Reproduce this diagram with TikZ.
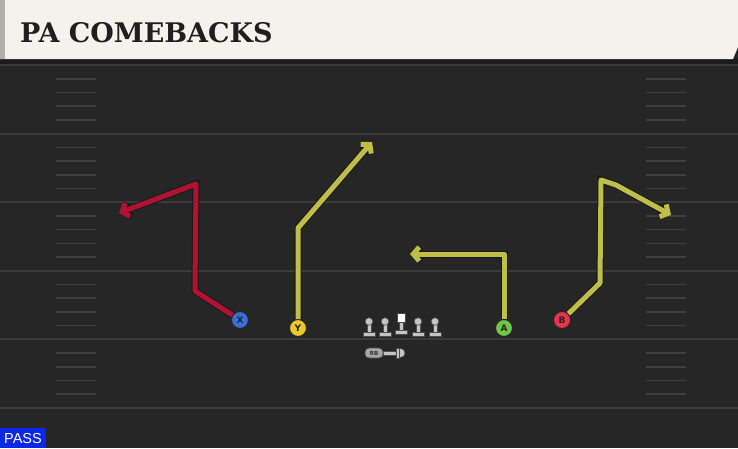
\documentclass[tikz,border=0pt]{standalone}
\usepackage{fontspec}
\setmainfont{DejaVu Sans}
\newfontfamily\titlefont{DejaVu Serif}
\newfontfamily\passfont{Liberation Sans}
\usetikzlibrary{arrows.meta}
\definecolor{field}{RGB}{38,38,38}
\definecolor{yardc}{RGB}{58,58,58}
\definecolor{hashc}{RGB}{62,62,62}
\definecolor{cream}{RGB}{244,242,236}
\definecolor{creamedge}{RGB}{176,176,168}
\definecolor{band}{RGB}{28,28,28}
\definecolor{routered}{RGB}{178,18,50}
\definecolor{routeyel}{RGB}{190,190,72}
\definecolor{xblue}{RGB}{58,110,216}
\definecolor{yyel}{RGB}{236,200,44}
\definecolor{agreen}{RGB}{110,200,70}
\definecolor{bred}{RGB}{232,52,72}
\definecolor{pawnc}{RGB}{196,196,196}
\definecolor{passblue}{RGB}{10,40,230}
\tikzset{
  yard/.style={draw=yardc, line width=2pt},
  hashmark/.style={draw=hashc, line width=1.6pt},
  route/.style={line width=5pt, line join=round, -{Straight Barb[length=6pt,width=14pt]},
     preaction={draw=black!90, line width=7pt}},
  player/.style={circle, draw=black!85, line width=1pt, minimum size=17pt, inner sep=0pt,
     font=\fontsize{9}{10}\selectfont\bfseries, text=black!85},
  pawn/.style={fill=pawnc, draw=black!70, line width=0.6pt},
}
\begin{document}
\begin{tikzpicture}[x=1pt,y=-1pt]
\useasboundingbox (0,0) rectangle (738,448);
\fill[field] (0,0) rectangle (738,448);
% yard lines and hash marks
\foreach \i in {0,...,5}{
  \pgfmathsetmacro{\yy}{65+68.6*\i}
  \draw[yard] (0,\yy) -- (738,\yy);
}
\foreach \i in {0,...,4}{
  \foreach \k in {1,...,4}{
    \pgfmathsetmacro{\hy}{65+68.6*\i+13.7*\k}
    \draw[hashmark] (56,\hy) -- (96,\hy);
    \draw[hashmark] (646,\hy) -- (686,\hy);
  }
}
% title bar
\fill[band] (0,58) rectangle (738,64);
\fill[cream] (0,0) -- (738,0) -- (738,47) -- (733,59) -- (0,59) -- cycle;
\fill[creamedge] (0,0) rectangle (5,59);
\node[anchor=base west, inner sep=0pt, font=\titlefont\bfseries\fontsize{27}{30}\selectfont, text=black!88] (title) at (20,42) {PA COMEBACKS};
% players
\node[player, fill=xblue] (X) at (240,320) {X};
\node[player, fill=yyel] (Y) at (298,328) {Y};
\node[player, fill=agreen] (A) at (504,328) {A};
\node[player, fill=bred] (B) at (562,320) {B};
% route waypoints
\coordinate (x1) at (195,291);
\coordinate (x2) at (196,184);
\coordinate (x3) at (119,213);
\coordinate (y1) at (298,228);
\coordinate (y2) at (372,142);
\coordinate (a1) at (504,254);
\coordinate (a2) at (410,254);
\coordinate (b1) at (600,283);
\coordinate (b2) at (601,180);
\coordinate (b3) at (616,185);
\coordinate (b4) at (671,215);
% routes
\draw[route, draw=routered] (X) -- (x1) -- (x2) -- (x3);
\draw[route, draw=routeyel] (Y) -- (y1) -- (y2);
\draw[route, draw=routeyel] (A) -- (a1) -- (a2);
\draw[route, draw=routeyel] (B) -- (b1) -- (b2) -- (b3) -- (b4);
% linemen
\foreach \cx in {369,385,418,435}{
  \fill[pawn] (\cx-6,332) rectangle (\cx+6,336);
  \fill[pawn] (\cx-2,323) rectangle (\cx+2,332);
  \fill[pawn] (\cx,321.5) circle (3.8);
}
\fill[pawn] (395,330) rectangle (407,334);
\fill[pawn] (399,321) rectangle (403,330);
\fill[fill=white, draw=black!70, line width=0.6pt] (397,313) rectangle (405,322);
% running back
\fill[pawn] (383,351) rectangle (398,355);
\fill[pawn] (400.5,353) circle (4.5);
\fill[pawn] (396.5,348) rectangle (399,358);
\node[pawn, fill=pawnc!85!black, rounded corners=4pt, minimum width=18pt, minimum height=10pt, inner sep=0pt,
      font=\fontsize{5.5}{6}\selectfont\bfseries, text=black!80] (RB) at (374,353) {RB};
% pass badge
\fill[passblue] (0,428) rectangle (46,448);
\node[font=\passfont\fontsize{14.5}{15}\selectfont, text=white, inner sep=0pt] (pass) at (23,438.5) {PASS};
\end{tikzpicture}
\end{document}
